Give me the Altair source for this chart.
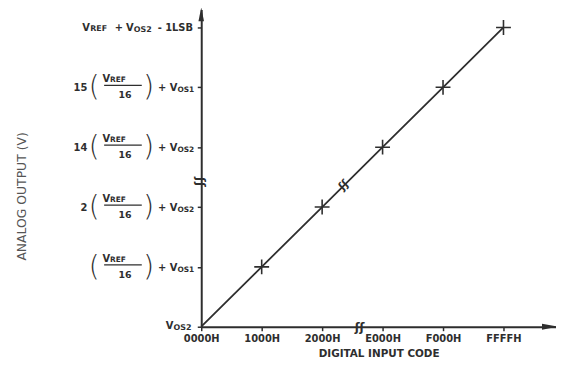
import altair as alt
import pandas as pd

# ---- data -------------------------------------------------------------
code_idx = [0, 1, 2, 3, 4, 5]
code_labels = ["0000H", "1000H", "2000H", "E000H", "F000H", "FFFFH"]
output_idx = [0, 1, 2, 3, 4, 5]

frac_rows = [1, 2, 3, 4]
frac_coef = ["", "2", "14", "15"]
frac_sub = ["OS1", "OS2", "OS2", "OS1"]

top_row = [5]
bottom_row = [0]

x_break = 2.62
y_break = 2.42
line_break = 2.36

# ---- style ------------------------------------------------------------
FONT = "DejaVu Sans"
INK = "#2e2e2e"
X_MAX = 358 / 61.0
Y_MAX = 320 / 60.4

xs = alt.Scale(domain=[0, X_MAX], nice=False, zero=False)
ys = alt.Scale(domain=[0, Y_MAX], nice=False, zero=False)

line_df = pd.DataFrame({"code": code_idx, "out": output_idx})
frac_df = pd.DataFrame({"row": frac_rows, "coef": frac_coef, "sub": frac_sub})
top_df = pd.DataFrame({"row": top_row})
bot_df = pd.DataFrame({"row": bottom_row})

label_expr = "[" + ",".join(f"'{l}'" for l in code_labels) + "][datum.value]"

line = alt.Chart(line_df).mark_line(color=INK, strokeWidth=1.8).encode(
    x=alt.X("code:Q", scale=xs, axis=alt.Axis(
        values=code_idx, labelExpr=label_expr, grid=False, labelFlush=False,
        domainColor=INK, domainWidth=2, tickColor=INK, tickWidth=1.5, tickSize=4,
        labelFont=FONT, labelFontSize=10, labelFontWeight="bold", labelColor=INK,
        labelPadding=3, title="DIGITAL INPUT CODE", titleFont=FONT,
        titleFontSize=10.5, titleFontWeight="bold", titleColor=INK, titlePadding=5)),
    y=alt.Y("out:Q", scale=ys, axis=alt.Axis(
        values=output_idx, labels=False, grid=False,
        domainColor=INK, domainWidth=2, tickColor=INK, tickWidth=1.5, tickSize=4,
        title="ANALOG OUTPUT (V)", titleFont=FONT, titleFontSize=12.5,
        titleFontWeight="normal", titleColor="#555", titleX=-181, titleY=188,
        titleAngle=270, titleAlign="center", titleBaseline="middle")),
)

pts = alt.Chart(line_df).transform_filter("datum.code > 0").mark_point(
    shape="M-1,0L1,0M0,-1L0,1", size=225, filled=False, color=INK,
    strokeWidth=1.6, opacity=1).encode(x="code:Q", y="out:Q")

arrow_y = alt.Chart(top_df).mark_point(
    shape="M0,-1L0.4,1L-0.4,1Z", size=196, filled=True, color=INK, opacity=1
).encode(x=alt.datum(0), y=alt.datum(Y_MAX - 0.08))

arrow_x = alt.Chart(top_df).mark_point(
    shape="M1,0L-1,0.38L-1,-0.38Z", size=256, filled=True, color=INK, opacity=1
).encode(x=alt.datum(X_MAX - 0.10), y=alt.datum(0))


def seg(data, text, dx, dy, size, align="left", weight="bold",
        baseline="alphabetic", angle=0, x=None, y=None):
    m = alt.Chart(data).mark_text(
        dx=dx, dy=dy, fontSize=size, align=align, baseline=baseline,
        font=FONT, fontWeight=weight, color=INK, angle=angle)
    return m.encode(
        x=alt.datum(0) if x is None else x,
        y=alt.Y("row:Q") if y is None else y,
        text=text)


layers = [line, pts, arrow_y, arrow_x]

# fraction labels (rows 1-4)
layers += [
    seg(frac_df, alt.Text("coef:N"), -115, 4, 10, align="right"),
    seg(frac_df, alt.value("("), -108, 1, 28, align="center", weight=200,
        baseline="middle"),
    seg(frac_df, alt.value("V"), -92, -5, 10, align="right"),
    seg(frac_df, alt.value("REF"), -92, -5, 7.5, align="left"),
    seg(frac_df, alt.value("16"), -77, 8, 9.5, align="center", baseline="middle"),
    seg(frac_df, alt.value(")"), -53, 1, 28, align="center", weight=200,
        baseline="middle"),
    seg(frac_df, alt.value("+ V"), -24, 4, 10, align="right"),
    seg(frac_df, alt.Text("sub:N"), -24, 5, 7.5, align="left"),
    alt.Chart(frac_df).mark_rule(xOffset=-98, x2Offset=-60, yOffset=-2,
                                 color=INK, strokeWidth=1.2).encode(
        x=alt.datum(0), x2=alt.datum(0), y="row:Q"),
]

# top label: VREF + VOS2 - 1LSB
layers += [
    seg(top_df, alt.value("V"), -120, 4, 10),
    seg(top_df, alt.value("REF"), -112, 4, 8),
    seg(top_df, alt.value("+"), -83, 4, 10, align="center"),
    seg(top_df, alt.value("V"), -76, 4, 10),
    seg(top_df, alt.value("OS2"), -68, 5, 8),
    seg(top_df, alt.value("- 1LSB"), -44, 4, 10),
]

# bottom label: VOS2
layers += [
    seg(bot_df, alt.value("V"), -28, 2, 10, align="right"),
    seg(bot_df, alt.value("OS2"), -28, 3, 8, align="left"),
]

# break marks
layers += [
    seg(top_df, alt.value("ʃʃ"), 0, 0, 12, align="center", baseline="middle",
        x=alt.datum(x_break), y=alt.datum(0)),
    seg(top_df, alt.value("ʃʃ"), 0, 0, 12, align="center", baseline="middle",
        angle=90, x=alt.datum(0), y=alt.datum(y_break)),
    seg(top_df, alt.value("ʃʃ"), 0, 0, 11, align="center", baseline="middle",
        angle=315, x=alt.datum(line_break), y=alt.datum(line_break)),
]

chart = alt.layer(*layers).properties(
    width=358, height=320, autosize="none", background="white",
    padding={"left": 195, "top": 0, "right": 0, "bottom": 39},
).configure_view(strokeWidth=0, stroke=None)

chart.save("out.html", embed_options={"renderer": "svg", "actions": False})
